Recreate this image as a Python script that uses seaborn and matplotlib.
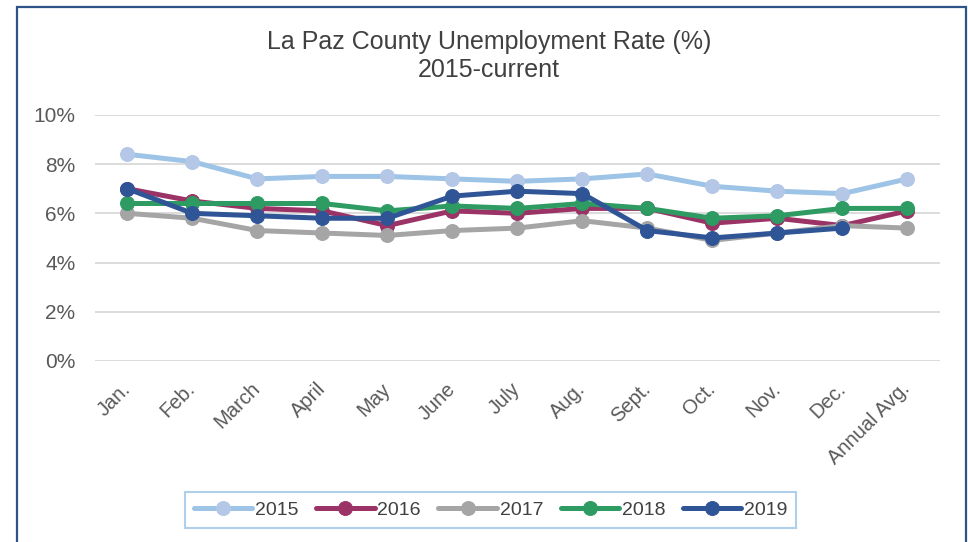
import numpy as np
import pandas as pd
import matplotlib
matplotlib.use("Agg")
import matplotlib.pyplot as plt
import seaborn as sns
from matplotlib.patches import Rectangle

# Chart values (unemployment rate, %)
months = ['Jan.', 'Feb.', 'March', 'April', 'May', 'June', 'July', 'Aug.',
          'Sept.', 'Oct.', 'Nov.', 'Dec.', 'Annual Avg.']
rate_2015 = [8.4, 8.1, 7.4, 7.5, 7.5, 7.4, 7.3, 7.4, 7.6, 7.1, 6.9, 6.8, 7.4]
rate_2016 = [7.0, 6.5, 6.2, 6.1, 5.5, 6.1, 6.0, 6.2, 6.2, 5.6, 5.8, 5.5, 6.1]
rate_2017 = [6.0, 5.8, 5.3, 5.2, 5.1, 5.3, 5.4, 5.7, 5.4, 4.9, 5.2, 5.5, 5.4]
rate_2018 = [6.4, 6.4, 6.4, 6.4, 6.1, 6.3, 6.2, 6.4, 6.2, 5.8, 5.9, 6.2, 6.2]
rate_2019 = [7.0, 6.0, 5.9, 5.8, 5.8, 6.7, 6.9, 6.8, 5.3, 5.0, 5.2, 5.4, np.nan]
years = ['2015', '2016', '2017', '2018', '2019']
y_ticks = [0, 2, 4, 6, 8, 10]

line_colors = {'2015': '#9DC3E6', '2016': '#9B3366', '2017': '#A5A5A5',
               '2018': '#2E9B62', '2019': '#2F5597'}
marker_colors = {'2015': '#B4C7E7', '2016': '#9B3366', '2017': '#A5A5A5',
                 '2018': '#2E9B62', '2019': '#2F5597'}

series = dict(zip(years, [rate_2015, rate_2016, rate_2017, rate_2018, rate_2019]))
frames = []
for yr in years:
    frames.append(pd.DataFrame({'pos': range(len(months)), 'month': months,
                                'rate': series[yr], 'year': yr}))
df = pd.concat(frames, ignore_index=True)

sns.set_style('white')
plt.rcParams['font.family'] = ['Liberation Sans', 'DejaVu Sans']

fig = plt.figure(figsize=(9.68, 5.42), dpi=100)
ax = fig.add_axes([0.098, 0.334, 0.873, 0.454])

for yr in years:
    sub = df[df['year'] == yr].dropna()
    sns.lineplot(data=sub, x='pos', y='rate', ax=ax, color=line_colors[yr],
                 linewidth=3.6, marker='o', markersize=10,
                 markerfacecolor=marker_colors[yr], markeredgecolor=marker_colors[yr],
                 label=yr, zorder=3)

ax.set_xlim(-0.5, len(months) - 0.5)
ax.set_ylim(0, 10)
ax.set_yticks(y_ticks)
ax.set_yticklabels([f'{v}%' for v in y_ticks], fontsize=15, color='#595959')
ax.set_xticks(range(len(months)))
ax.set_xticklabels(months, rotation=45, ha='right', va='center',
                   rotation_mode='anchor', fontsize=14.5, color='#595959')
ax.tick_params(axis='both', length=0)
ax.tick_params(axis='x', pad=18)
ax.tick_params(axis='y', pad=14)
ax.grid(axis='y', color='#D9D9D9', linewidth=1.3)
ax.grid(axis='x', visible=False)
for s in ax.spines.values():
    s.set_visible(False)
ax.set_xlabel('')
ax.set_ylabel('')

ax.get_legend().remove()
handles, labels = ax.get_legend_handles_labels()
leg = fig.legend(handles, labels, loc='center', bbox_to_anchor=(0.507, 0.059),
                 ncol=5, frameon=True, fancybox=False, fontsize=14,
                 handlelength=3.0, columnspacing=0.9, handletextpad=0.15,
                 borderpad=0.45, borderaxespad=0)
leg.get_frame().set_edgecolor('#9DC3E6')
leg.get_frame().set_linewidth(1.5)
for t in leg.get_texts():
    t.set_color('#404040')

fig.text(0.505, 0.897, 'La Paz County Unemployment Rate (%)\n2015-current',
         ha='center', va='center', fontsize=18, color='#404040',
         linespacing=1.2)

# chart border
fig.patches.append(Rectangle((17 / 968, -0.05), 949 / 968, 1.037, transform=fig.transFigure,
                             fill=False, edgecolor='#2E5487', linewidth=1.6))

fig.savefig('out.png', dpi=100)
